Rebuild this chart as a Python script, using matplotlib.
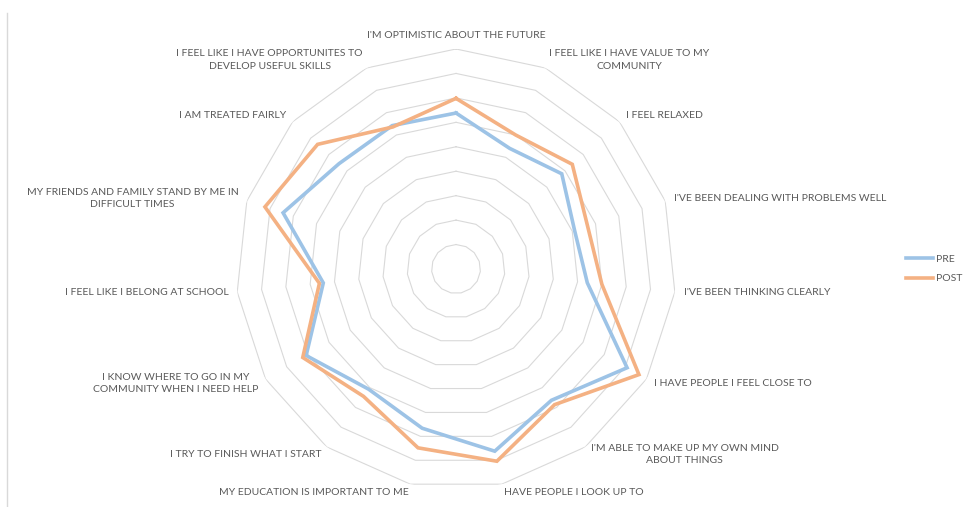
import numpy as np
import matplotlib
matplotlib.use("Agg")
import matplotlib.pyplot as plt
from matplotlib.lines import Line2D

categories = [
    "I'M OPTIMISTIC ABOUT THE FUTURE",
    "I FEEL LIKE I HAVE VALUE TO MY\nCOMMUNITY",
    "I FEEL RELAXED",
    "I'VE BEEN DEALING WITH PROBLEMS WELL",
    "I'VE BEEN THINKING CLEARLY",
    "I HAVE PEOPLE I FEEL CLOSE TO",
    "I'M ABLE TO MAKE UP MY OWN MIND\nABOUT THINGS",
    "HAVE PEOPLE I LOOK UP TO",
    "MY EDUCATION IS IMPORTANT TO ME",
    "I TRY TO FINISH WHAT I START",
    "I KNOW WHERE TO GO IN MY\nCOMMUNITY WHEN I NEED HELP",
    "I FEEL LIKE I BELONG AT SCHOOL",
    "MY FRIENDS AND FAMILY STAND BY ME IN\nDIFFICULT TIMES",
    "I AM TREATED FAIRLY",
    "I FEEL LIKE I HAVE OPPORTUNITES TO\nDEVELOP USEFUL SKILLS",
]
pre = [3.19, 2.70, 2.91, 2.55, 2.70, 4.04, 3.32, 3.81, 3.33, 3.04, 3.54, 2.73, 3.72, 3.22, 3.21]
post = [3.49, 3.00, 3.20, 2.83, 3.00, 4.32, 3.43, 4.02, 3.74, 3.22, 3.62, 2.81, 4.11, 3.81, 3.18]
series_names = ["PRE", "POST"]
ring_levels = [0.5, 1.0, 1.5, 2.0, 2.5, 3.0, 3.5, 4.0, 4.5]

blue = "#9DC3E6"
orange = "#F4B183"
grid_col = "#D9D9D9"
text_col = "#595959"

plt.rcParams["font.family"] = ["Lato", "DejaVu Sans"]

fig = plt.figure(figsize=(9.63, 5.07), dpi=100)
ax = fig.add_axes([0.2451, 0.0355, 0.4569, 0.8679], projection="polar")
ax.set_theta_zero_location("N")
ax.set_theta_direction(-1)
ax.set_ylim(0, ring_levels[-1])
ax.grid(False)
ax.spines["polar"].set_visible(False)
ax.set_xticks([])
ax.set_yticks([])
ax.patch.set_alpha(0)

n = len(categories)
angles = np.linspace(0, 2 * np.pi, n, endpoint=False)
closed = np.append(angles, angles[0])

# polygon rings like excel
for lev in ring_levels:
    ax.plot(closed, [lev] * (n + 1), color=grid_col, lw=0.8, zorder=1)

ax.plot(closed, pre + pre[:1], color=blue, lw=2.6, zorder=3, solid_joinstyle="miter")
ax.plot(closed, post + post[:1], color=orange, lw=2.6, zorder=3, solid_joinstyle="miter")

rmax = ring_levels[-1]
for a, lab in zip(angles, categories):
    s = np.sin(a)
    if abs(s) < 0.01:
        ha = "center"
    elif s > 0:
        ha = "left"
    else:
        ha = "right"
    va = "center"
    if abs(a) < 0.01:
        va = "bottom"
    ax.text(a, rmax * 1.04, lab, ha=ha, va=va, multialignment="center",
            fontsize=7.5, color=text_col, linespacing=1.45)

handles = [Line2D([], [], color=blue, lw=2.6), Line2D([], [], color=orange, lw=2.6)]
fig.legend(handles, series_names, loc="center left", bbox_to_anchor=(0.936, 0.47),
           frameon=False, fontsize=7.5, labelcolor=text_col, handlelength=2.6,
           handletextpad=0.3, labelspacing=1.0, borderaxespad=0)

# thin border line on the left side
fig.add_artist(Line2D([7 / 963, 7 / 963], [0, 1 - 13 / 507], color=grid_col, lw=1,
                      transform=fig.transFigure))

fig.savefig("out.png", dpi=100)
